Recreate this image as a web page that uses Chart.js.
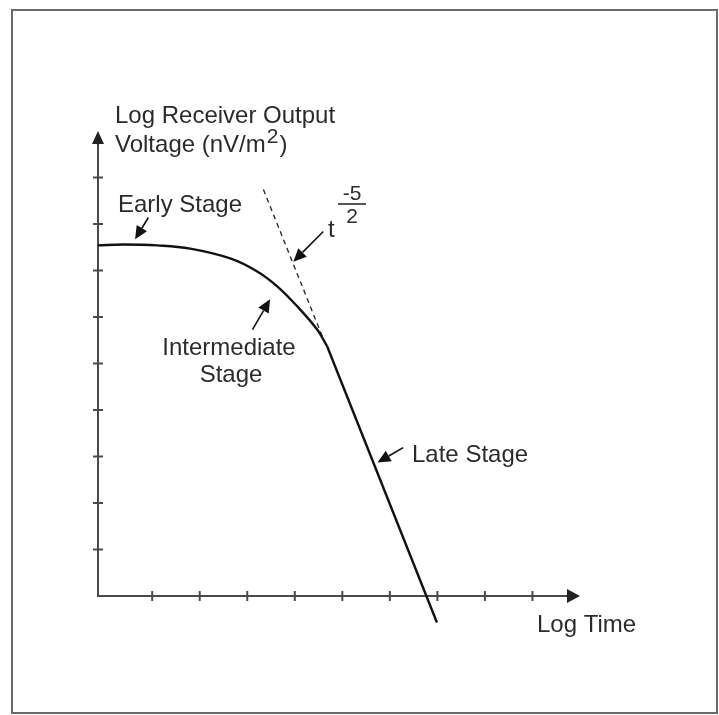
<!DOCTYPE html>
<html><head><meta charset="utf-8">
<script src="https://cdn.jsdelivr.net/npm/chart.js@4/dist/chart.umd.min.js"></script>
<style>
html,body{margin:0;padding:0;background:#fff;}
#wrap{width:719px;height:715px;position:relative;}
canvas{display:block;}
</style>
</head><body>
<div id="wrap"><canvas id="c" width="719" height="715"></canvas></div>
<script>
// ---- data (log-log units) ----
const curveX = [-0.14, 0.39, 1.11, 1.80, 2.64, 3.21, 3.63, 4.05, 4.47, 4.68];
const curveY = [7.54, 7.56, 7.54, 7.47, 7.26, 6.98, 6.66, 6.23, 5.73, 5.37];
const lateX = [4.68, 6.99];
const lateY = [5.37, -0.57];
const dashX = [3.34, 4.58];
const dashY = [8.74, 5.58];
const xTicks = [1, 2, 3, 4, 5, 6, 7, 8, 9];
const yTicks = [1, 2, 3, 4, 5, 6, 7, 8, 9];
const xRange = [-0.14, 10];
const yRange = [0, 10];

const toPts = (xs, ys) => xs.map((x, i) => ({x: x, y: ys[i]}));

const FONT = '24px "Liberation Sans", Arial, sans-serif';
const TEXT = '#2b2b2b';

function arrow(ctx, x1, y1, x2, y2, len, half, color) {
  const a = Math.atan2(y2 - y1, x2 - x1);
  const bx = x2 - len * Math.cos(a), by = y2 - len * Math.sin(a);
  ctx.save();
  ctx.strokeStyle = color; ctx.fillStyle = color; ctx.lineWidth = 1.6;
  ctx.beginPath(); ctx.moveTo(x1, y1); ctx.lineTo(bx, by); ctx.stroke();
  ctx.beginPath();
  ctx.moveTo(x2, y2);
  ctx.lineTo(bx + half * Math.sin(a), by - half * Math.cos(a));
  ctx.lineTo(bx - half * Math.sin(a), by + half * Math.cos(a));
  ctx.closePath(); ctx.fill();
  ctx.restore();
}

const decor = {
  id: 'decor',
  beforeDraw(chart) {
    const ctx = chart.ctx;
    ctx.save();
    ctx.fillStyle = '#fff';
    ctx.fillRect(0, 0, chart.width, chart.height);
    ctx.strokeStyle = '#6a6a6a';
    ctx.lineWidth = 2;
    ctx.strokeRect(12, 10, 705, 703);
    ctx.restore();
  },
  beforeDatasetsDraw(chart) {
    const ctx = chart.ctx, xs = chart.scales.x, ys = chart.scales.y;
    const x0 = xs.getPixelForValue(xRange[0]), x1 = xs.getPixelForValue(xRange[1]);
    const y0 = ys.getPixelForValue(yRange[0]), y1 = ys.getPixelForValue(yRange[1]);
    ctx.save();
    ctx.strokeStyle = '#4a4a4a';
    ctx.lineWidth = 2;
    ctx.beginPath();
    ctx.moveTo(x0, y1 + 10); ctx.lineTo(x0, y0); ctx.lineTo(x1 - 10, y0);
    ctx.stroke();
    xTicks.forEach(v => {
      const p = xs.getPixelForValue(v);
      ctx.beginPath(); ctx.moveTo(p, y0 - 5); ctx.lineTo(p, y0 + 5); ctx.stroke();
    });
    yTicks.forEach(v => {
      const p = ys.getPixelForValue(v);
      ctx.beginPath(); ctx.moveTo(x0 - 5, p); ctx.lineTo(x0 + 5, p); ctx.stroke();
    });
    ctx.restore();
    arrow(ctx, x0, y1 + 14, x0, y1, 13, 6, '#222');
    arrow(ctx, x1 - 14, y0, x1, y0, 13, 7, '#222');
  },
  afterDatasetsDraw(chart) {
    const ctx = chart.ctx, xs = chart.scales.x, ys = chart.scales.y;
    const X = v => xs.getPixelForValue(v), Y = v => ys.getPixelForValue(v);
    ctx.save();
    ctx.fillStyle = TEXT;
    ctx.font = FONT;
    ctx.textBaseline = 'alphabetic';
    ctx.textAlign = 'left';
    ctx.fillText('Log Receiver Output', 115, 123);
    ctx.fillText('Voltage (nV/m', 115, 152);
    let w = ctx.measureText('Voltage (nV/m').width;
    ctx.font = '21px "Liberation Sans", Arial, sans-serif';
    ctx.fillText('2', 115 + w + 1, 143);
    let w2 = ctx.measureText('2').width;
    ctx.font = FONT;
    ctx.fillText(')', 115 + w + w2 + 2, 152);
    ctx.fillText('Early Stage', 118, 212);
    ctx.fillText('t', 328, 237);
    ctx.font = '21px "Liberation Sans", Arial, sans-serif';
    ctx.textAlign = 'center';
    ctx.fillText('-5', 352, 200);
    ctx.fillText('2', 352, 223);
    ctx.restore();
    ctx.save();
    ctx.strokeStyle = TEXT; ctx.lineWidth = 1.6;
    ctx.beginPath(); ctx.moveTo(338, 204); ctx.lineTo(366, 204); ctx.stroke();
    ctx.fillStyle = TEXT;
    ctx.font = FONT;
    ctx.textAlign = 'center';
    ctx.fillText('Intermediate', 229, 355);
    ctx.fillText('Stage', 231, 382);
    ctx.textAlign = 'left';
    ctx.fillText('Late Stage', 412, 462);
    ctx.fillText('Log Time', 537, 632);
    ctx.restore();
    // pointer arrows (placed in data units)
    arrow(ctx, X(0.92), Y(8.14), X(0.64), Y(7.67), 13, 6, '#111');
    arrow(ctx, X(3.11), Y(5.73), X(3.48), Y(6.38), 13, 6, '#111');
    arrow(ctx, X(4.60), Y(7.84), X(3.97), Y(7.19), 13, 6, '#111');
    arrow(ctx, X(6.28), Y(3.19), X(5.74), Y(2.87), 13, 6, '#111');
  }
};

new Chart(document.getElementById('c'), {
  type: 'line',
  data: {
    datasets: [
      {data: toPts(curveX, curveY), borderColor: '#111', borderWidth: 2.4, pointRadius: 0, tension: 0.4, clip: false},
      {data: toPts(lateX, lateY), borderColor: '#111', borderWidth: 2.4, pointRadius: 0, tension: 0, clip: false},
      {data: toPts(dashX, dashY), borderColor: '#222', borderWidth: 1.3, borderDash: [5, 4], pointRadius: 0, tension: 0, clip: false}
    ]
  },
  options: {
    responsive: false,
    animation: false,
    devicePixelRatio: 1,
    layout: {padding: {left: 98, right: 139, top: 131, bottom: 119}},
    plugins: {legend: {display: false}, tooltip: {enabled: false}, title: {display: false}},
    scales: {
      x: {type: 'linear', display: false, min: xRange[0], max: xRange[1]},
      y: {type: 'linear', display: false, min: yRange[0], max: yRange[1]}
    }
  },
  plugins: [decor]
});
</script>
</body></html>
